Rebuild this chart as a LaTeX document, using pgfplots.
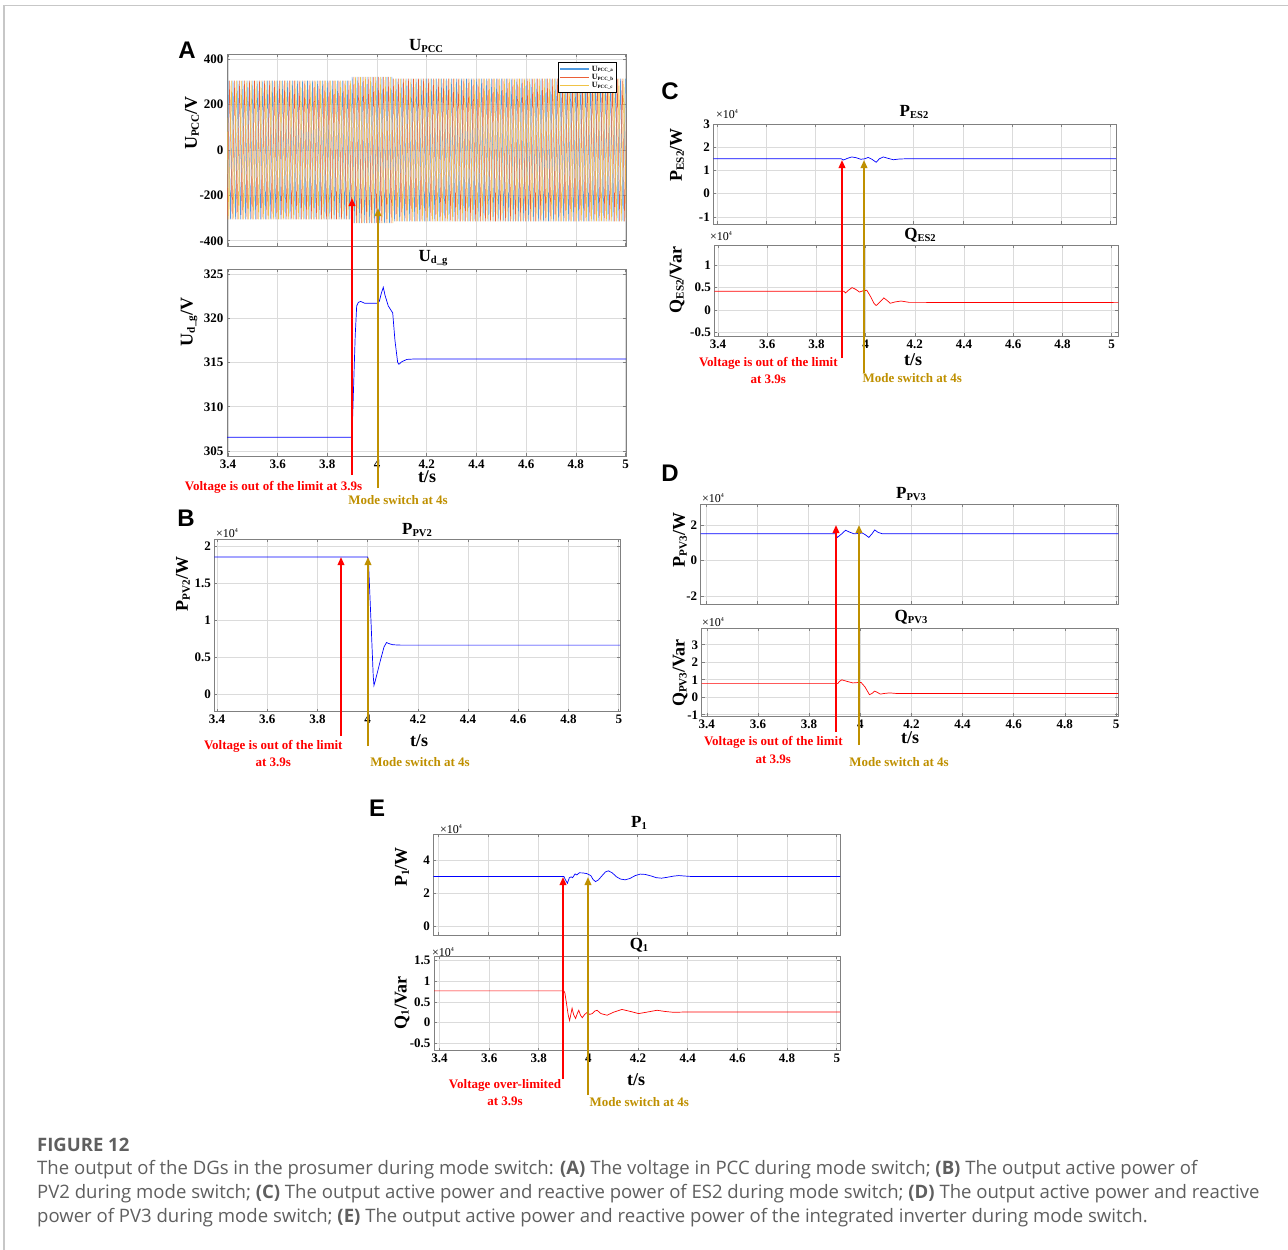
\documentclass[border=0pt]{standalone}
\usepackage{fontspec}
\setmainfont{Liberation Serif}
\newfontfamily\capfont{Open Sans}
\newfontfamily\letfont{Liberation Sans}
\usepackage{graphicx}
\usepackage{xcolor}
\usepackage{pgfplots}
\pgfplotsset{compat=1.18}
\usetikzlibrary{arrows.meta}

\definecolor{phA}{RGB}{80,155,225}
\definecolor{phB}{RGB}{235,95,55}
\definecolor{phC}{RGB}{240,195,70}
\definecolor{gold}{RGB}{191,144,0}
\definecolor{capgray}{RGB}{95,95,95}

\newcommand\sbx[1]{\raisebox{-0.12em}{\scalebox{0.62}{#1}}}
\newcommand\fs[1]{\fontsize{#1}{#1}\selectfont}

\pgfplotsset{
  mat/.style={
    scale only axis, anchor=north west,
    xmajorgrids, ymajorgrids,
    grid style={line width=0.6pt, black!14},
    axis line style={line width=0.7pt, black!50},
    every tick/.style={black!50, line width=0.6pt},
    tick align=inside, major tick length=3pt,
    ticklabel style={font=\fs{13}\bfseries, text=black},
    /pgf/number format/assume math mode=true,
    xtick={3.4,3.6,3.8,4,4.2,4.4,4.6,4.8,5},
    scaled ticks=false,
  },
  notx/.style={xticklabels={}},
  sig/.style={line width=0.7pt},
}

\begin{document}
\begin{tikzpicture}
\useasboundingbox (0,0) rectangle (1288pt,-1250pt);
\fill[white] (0,0) rectangle (1288pt,-1250pt);
\draw[black!22, line width=1.2pt] (4pt,-1260pt) -- (4pt,-5.5pt) -- (1300pt,-5.5pt);

% ---------------- A: U_PCC
\begin{axis}[mat, notx, at={(227pt,-54pt)}, width=399pt, height=192pt,
  xmin=3.396, xmax=5.002, ymin=-423, ymax=423, ytick={-400,-200,0,200,400},
  legend style={at={(0.977,0.958)}, anchor=north east, font=\fs{8}\bfseries,
    draw=black, fill=white, inner sep=1.5pt, row sep=-2.5pt,
    cells={anchor=west}},
  legend image code/.code={\draw[#1, line width=1.4pt] (0pt,0pt) -- (29pt,0pt);}]
\addplot[phA, line width=0.5pt] coordinates {
(3.40,306)(3.41,-306)(3.42,306)(3.43,-306)(3.44,306)(3.45,-306)(3.46,306)(3.47,-306)(3.48,306)(3.49,-306)
(3.50,306)(3.51,-306)(3.52,306)(3.53,-306)(3.54,306)(3.55,-306)(3.56,306)(3.57,-306)(3.58,306)(3.59,-306)
(3.60,306)(3.61,-306)(3.62,306)(3.63,-306)(3.64,306)(3.65,-306)(3.66,306)(3.67,-306)(3.68,306)(3.69,-306)
(3.70,306)(3.71,-306)(3.72,306)(3.73,-306)(3.74,306)(3.75,-306)(3.76,306)(3.77,-306)(3.78,306)(3.79,-306)
(3.80,306)(3.81,-306)(3.82,306)(3.83,-306)(3.84,306)(3.85,-306)(3.86,306)(3.87,-306)(3.88,306)(3.89,-306)
(3.90,322)(3.91,-322)(3.92,322)(3.93,-322)(3.94,322)(3.95,-322)(3.96,322)(3.97,-322)(3.98,322)(3.99,-322)
(4.00,322)(4.01,-322)(4.02,322)(4.03,-322)(4.04,322)(4.05,-322)(4.06,322)(4.07,-315)(4.08,315)(4.09,-315)
(4.10,315)(4.11,-315)(4.12,315)(4.13,-315)(4.14,315)(4.15,-315)(4.16,315)(4.17,-315)(4.18,315)(4.19,-315)
(4.20,315)(4.21,-315)(4.22,315)(4.23,-315)(4.24,315)(4.25,-315)(4.26,315)(4.27,-315)(4.28,315)(4.29,-315)
(4.30,315)(4.31,-315)(4.32,315)(4.33,-315)(4.34,315)(4.35,-315)(4.36,315)(4.37,-315)(4.38,315)(4.39,-315)
(4.40,315)(4.41,-315)(4.42,315)(4.43,-315)(4.44,315)(4.45,-315)(4.46,315)(4.47,-315)(4.48,315)(4.49,-315)
(4.50,315)(4.51,-315)(4.52,315)(4.53,-315)(4.54,315)(4.55,-315)(4.56,315)(4.57,-315)(4.58,315)(4.59,-315)
(4.60,315)(4.61,-315)(4.62,315)(4.63,-315)(4.64,315)(4.65,-315)(4.66,315)(4.67,-315)(4.68,315)(4.69,-315)
(4.70,315)(4.71,-315)(4.72,315)(4.73,-315)(4.74,315)(4.75,-315)(4.76,315)(4.77,-315)(4.78,315)(4.79,-315)
(4.80,315)(4.81,-315)(4.82,315)(4.83,-315)(4.84,315)(4.85,-315)(4.86,315)(4.87,-315)(4.88,315)(4.89,-315)
(4.90,315)(4.91,-315)(4.92,315)(4.93,-315)(4.94,315)(4.95,-315)(4.96,315)(4.97,-315)(4.98,315)(4.99,-315)
(5.00,315)};
\addlegendentry{U\sbx{PCC\_a}}
\addplot[phB, line width=0.5pt] coordinates {
(3.3967,-306)
(3.4067,306)(3.4167,-306)(3.4267,306)(3.4367,-306)(3.4467,306)(3.4567,-306)(3.4667,306)(3.4767,-306)(3.4867,306)(3.4967,-306)
(3.5067,306)(3.5167,-306)(3.5267,306)(3.5367,-306)(3.5467,306)(3.5567,-306)(3.5667,306)(3.5767,-306)(3.5867,306)(3.5967,-306)
(3.6067,306)(3.6167,-306)(3.6267,306)(3.6367,-306)(3.6467,306)(3.6567,-306)(3.6667,306)(3.6767,-306)(3.6867,306)(3.6967,-306)
(3.7067,306)(3.7167,-306)(3.7267,306)(3.7367,-306)(3.7467,306)(3.7567,-306)(3.7667,306)(3.7767,-306)(3.7867,306)(3.7967,-306)
(3.8067,306)(3.8167,-306)(3.8267,306)(3.8367,-306)(3.8467,306)(3.8567,-306)(3.8667,306)(3.8767,-306)(3.8867,306)(3.8967,-306)
(3.9067,322)(3.9167,-322)(3.9267,322)(3.9367,-322)(3.9467,322)(3.9567,-322)(3.9667,322)(3.9767,-322)(3.9867,322)(3.9967,-322)
(4.0067,322)(4.0167,-322)(4.0267,322)(4.0367,-322)(4.0467,322)(4.0567,-322)(4.0667,315)(4.0767,-315)(4.0867,315)(4.0967,-315)
(4.1067,315)(4.1167,-315)(4.1267,315)(4.1367,-315)(4.1467,315)(4.1567,-315)(4.1667,315)(4.1767,-315)(4.1867,315)(4.1967,-315)
(4.2067,315)(4.2167,-315)(4.2267,315)(4.2367,-315)(4.2467,315)(4.2567,-315)(4.2667,315)(4.2767,-315)(4.2867,315)(4.2967,-315)
(4.3067,315)(4.3167,-315)(4.3267,315)(4.3367,-315)(4.3467,315)(4.3567,-315)(4.3667,315)(4.3767,-315)(4.3867,315)(4.3967,-315)
(4.4067,315)(4.4167,-315)(4.4267,315)(4.4367,-315)(4.4467,315)(4.4567,-315)(4.4667,315)(4.4767,-315)(4.4867,315)(4.4967,-315)
(4.5067,315)(4.5167,-315)(4.5267,315)(4.5367,-315)(4.5467,315)(4.5567,-315)(4.5667,315)(4.5767,-315)(4.5867,315)(4.5967,-315)
(4.6067,315)(4.6167,-315)(4.6267,315)(4.6367,-315)(4.6467,315)(4.6567,-315)(4.6667,315)(4.6767,-315)(4.6867,315)(4.6967,-315)
(4.7067,315)(4.7167,-315)(4.7267,315)(4.7367,-315)(4.7467,315)(4.7567,-315)(4.7667,315)(4.7767,-315)(4.7867,315)(4.7967,-315)
(4.8067,315)(4.8167,-315)(4.8267,315)(4.8367,-315)(4.8467,315)(4.8567,-315)(4.8667,315)(4.8767,-315)(4.8867,315)(4.8967,-315)
(4.9067,315)(4.9167,-315)(4.9267,315)(4.9367,-315)(4.9467,315)(4.9567,-315)(4.9667,315)(4.9767,-315)(4.9867,315)(4.9967,-315)
(5.0067,315)};
\addlegendentry{U\sbx{PCC\_b}}
\addplot[phC, line width=0.5pt] coordinates {
(3.3933,306)
(3.4033,-306)(3.4133,306)(3.4233,-306)(3.4333,306)(3.4433,-306)(3.4533,306)(3.4633,-306)(3.4733,306)(3.4833,-306)(3.4933,306)
(3.5033,-306)(3.5133,306)(3.5233,-306)(3.5333,306)(3.5433,-306)(3.5533,306)(3.5633,-306)(3.5733,306)(3.5833,-306)(3.5933,306)
(3.6033,-306)(3.6133,306)(3.6233,-306)(3.6333,306)(3.6433,-306)(3.6533,306)(3.6633,-306)(3.6733,306)(3.6833,-306)(3.6933,306)
(3.7033,-306)(3.7133,306)(3.7233,-306)(3.7333,306)(3.7433,-306)(3.7533,306)(3.7633,-306)(3.7733,306)(3.7833,-306)(3.7933,306)
(3.8033,-306)(3.8133,306)(3.8233,-306)(3.8333,306)(3.8433,-306)(3.8533,306)(3.8633,-306)(3.8733,306)(3.8833,-306)(3.8933,306)
(3.9033,-322)(3.9133,322)(3.9233,-322)(3.9333,322)(3.9433,-322)(3.9533,322)(3.9633,-322)(3.9733,322)(3.9833,-322)(3.9933,322)
(4.0033,-322)(4.0133,322)(4.0233,-322)(4.0333,322)(4.0433,-322)(4.0533,322)(4.0633,-322)(4.0733,315)(4.0833,-315)(4.0933,315)
(4.1033,-315)(4.1133,315)(4.1233,-315)(4.1333,315)(4.1433,-315)(4.1533,315)(4.1633,-315)(4.1733,315)(4.1833,-315)(4.1933,315)
(4.2033,-315)(4.2133,315)(4.2233,-315)(4.2333,315)(4.2433,-315)(4.2533,315)(4.2633,-315)(4.2733,315)(4.2833,-315)(4.2933,315)
(4.3033,-315)(4.3133,315)(4.3233,-315)(4.3333,315)(4.3433,-315)(4.3533,315)(4.3633,-315)(4.3733,315)(4.3833,-315)(4.3933,315)
(4.4033,-315)(4.4133,315)(4.4233,-315)(4.4333,315)(4.4433,-315)(4.4533,315)(4.4633,-315)(4.4733,315)(4.4833,-315)(4.4933,315)
(4.5033,-315)(4.5133,315)(4.5233,-315)(4.5333,315)(4.5433,-315)(4.5533,315)(4.5633,-315)(4.5733,315)(4.5833,-315)(4.5933,315)
(4.6033,-315)(4.6133,315)(4.6233,-315)(4.6333,315)(4.6433,-315)(4.6533,315)(4.6633,-315)(4.6733,315)(4.6833,-315)(4.6933,315)
(4.7033,-315)(4.7133,315)(4.7233,-315)(4.7333,315)(4.7433,-315)(4.7533,315)(4.7633,-315)(4.7733,315)(4.7833,-315)(4.7933,315)
(4.8033,-315)(4.8133,315)(4.8233,-315)(4.8333,315)(4.8433,-315)(4.8533,315)(4.8633,-315)(4.8733,315)(4.8833,-315)(4.8933,315)
(4.9033,-315)(4.9133,315)(4.9233,-315)(4.9333,315)(4.9433,-315)(4.9533,315)(4.9633,-315)(4.9733,315)(4.9833,-315)(4.9933,315)
(5.0033,-315)};
\addlegendentry{U\sbx{PCC\_c}}
\end{axis}

% ---------------- A: U_d_g
\begin{axis}[mat, at={(227pt,-269.3pt)}, width=399pt, height=186.7pt,
  xmin=3.396, xmax=5.002, ymin=304.44, ymax=325.53, ytick={305,310,315,320,325}]
\addplot[blue, sig] coordinates {(3.396,306.55)(3.899,306.55)(3.903,310)(3.912,318)(3.918,321.4)(3.925,321.8)(3.934,321.9)(3.95,321.7)(4.0,321.7)(4.009,321.9)(4.017,322.8)(4.025,323.5)(4.032,322.6)(4.045,321.4)(4.063,320.6)(4.072,317.5)(4.083,315)(4.088,314.8)(4.10,315.1)(4.12,315.35)(4.15,315.4)(5.002,315.4)};
\end{axis}

% ---------------- B: P_PV2
\begin{axis}[mat, at={(214.3pt,-539.3pt)}, width=405.7pt, height=172.4pt,
  xmin=3.389, xmax=5.005, ymin=-0.235, ymax=2.095, ytick={0,0.5,1,1.5,2}]
\addplot[blue, sig] coordinates {(3.389,1.855)(4.0,1.855)(4.003,1.80)(4.013,1.0)(4.022,0.25)(4.025,0.12)(4.03,0.18)(4.05,0.45)(4.065,0.64)(4.075,0.70)(4.085,0.685)(4.10,0.67)(4.13,0.665)(5.005,0.665)};
\end{axis}

% ---------------- C: P_ES2, Q_ES2
\begin{axis}[mat, notx, at={(713.3pt,-124pt)}, width=402.7pt, height=100pt,
  xmin=3.385, xmax=5.022, ymin=-1.31, ymax=3, ytick={-1,0,1,2,3}]
\addplot[blue, sig] coordinates {(3.385,1.5)(3.905,1.5)(3.915,1.45)(3.93,1.52)(3.948,1.58)(3.965,1.55)(3.985,1.48)(4.0,1.5)(4.015,1.56)(4.03,1.48)(4.047,1.35)(4.06,1.5)(4.076,1.58)(4.095,1.52)(4.117,1.46)(4.14,1.49)(4.165,1.5)(5.03,1.5)};
\end{axis}
\begin{axis}[mat, at={(714.3pt,-245pt)}, width=404pt, height=91pt,
  xmin=3.385, xmax=5.027, ymin=-0.58, ymax=1.45, ytick={-0.5,0,0.5,1}]
\addplot[red, sig] coordinates {(3.385,0.42)(3.912,0.42)(3.918,0.38)(3.93,0.44)(3.945,0.50)(3.96,0.46)(3.975,0.40)(3.99,0.43)(4.005,0.44)(4.02,0.30)(4.035,0.14)(4.043,0.10)(4.055,0.16)(4.074,0.27)(4.088,0.21)(4.1,0.15)(4.12,0.18)(4.144,0.2)(4.178,0.17)(5.03,0.165)};
\end{axis}

% ---------------- D: P_PV3, Q_PV3
\begin{axis}[mat, notx, at={(700.7pt,-504.3pt)}, width=417.6pt, height=99.7pt,
  xmin=3.38, xmax=5.009, ymin=-2.42, ymax=3.15, ytick={-2,0,2}]
\addplot[blue, sig] coordinates {(3.38,1.5)(3.905,1.5)(3.913,1.3)(3.93,1.5)(3.945,1.7)(3.96,1.6)(3.978,1.5)(3.995,1.52)(4.01,1.55)(4.022,1.45)(4.036,1.3)(4.048,1.5)(4.059,1.72)(4.072,1.58)(4.089,1.5)(5.01,1.5)};
\end{axis}
\begin{axis}[mat, at={(701.7pt,-628.3pt)}, width=416.6pt, height=87.7pt,
  xmin=3.38, xmax=5.009, ymin=-1.07, ymax=3.94, ytick={-1,0,1,2,3}]
\addplot[red, sig] coordinates {(3.38,0.78)(3.912,0.78)(3.918,0.9)(3.928,1.0)(3.945,0.92)(3.971,0.82)(3.99,0.84)(4.003,0.85)(4.018,0.6)(4.036,0.15)(4.046,0.22)(4.056,0.35)(4.067,0.28)(4.078,0.18)(4.095,0.22)(4.115,0.25)(4.14,0.22)(5.01,0.22)};
\end{axis}

% ---------------- E: P_1, Q_1
\begin{axis}[mat, notx, at={(433.3pt,-834.3pt)}, width=406.7pt, height=100.7pt,
  xmin=3.378, xmax=5.013, ymin=-0.55, ymax=5.6, ytick={0,2,4}]
\addplot[blue, sig] coordinates {(3.378,3.02)(3.903,3.02)(3.91,2.8)(3.917,2.61)(3.925,2.95)(3.932,3.0)(3.938,2.95)(3.948,3.18)(3.955,3.12)(3.965,3.25)(3.98,3.24)(3.995,3.2)(4.011,3.08)(4.02,2.85)(4.03,2.71)(4.042,2.82)(4.058,3.1)(4.07,3.3)(4.082,3.37)(4.097,3.25)(4.115,3.0)(4.13,2.87)(4.149,2.82)(4.168,2.9)(4.19,3.08)(4.21,3.17)(4.23,3.15)(4.255,3.05)(4.275,2.95)(4.296,2.92)(4.32,2.98)(4.345,3.05)(4.365,3.08)(4.39,3.05)(4.42,3.02)(5.013,3.02)};
\end{axis}
\begin{axis}[mat, at={(434pt,-956pt)}, width=406pt, height=94.7pt,
  xmin=3.378, xmax=5.013, ymin=-0.68, ymax=1.615, ytick={-0.5,0,0.5,1,1.5}]
\addplot[red, sig] coordinates {(3.378,0.77)(3.901,0.77)(3.905,0.72)(3.912,0.45)(3.918,0.2)(3.924,0.05)(3.929,0.2)(3.934,0.35)(3.94,0.2)(3.948,0.1)(3.955,0.22)(3.961,0.3)(3.968,0.18)(3.975,0.12)(3.985,0.2)(3.995,0.25)(4.005,0.2)(4.015,0.22)(4.025,0.28)(4.035,0.3)(4.05,0.22)(4.075,0.18)(4.1,0.25)(4.135,0.32)(4.17,0.27)(4.202,0.22)(4.24,0.26)(4.276,0.3)(4.31,0.27)(4.343,0.25)(4.4,0.26)(5.013,0.26)};
\end{axis}

% ---------------- annotations (pixel coordinates, y downwards)
\begin{scope}[x=1pt, y=-1pt]
\tikzset{arr/.style={line width=1.8pt, -{Triangle[length=8pt,width=6.5pt]}},
  ann/.style={font=\fs{13}\bfseries, inner sep=0pt},
  ttl/.style={font=\fs{17}\bfseries, inner sep=0pt},
  ylab/.style={font=\fs{18}\bfseries, rotate=90, inner sep=0pt},
  xlab/.style={font=\fs{18}\bfseries, inner sep=0pt},
  ten/.style={font=\fs{12}, anchor=west, inner sep=0pt},
  let/.style={font=\letfont\bfseries\fs{24}, inner sep=0pt}}
% letters
\node[let] at (187,50) {A};
\node[let] at (186,518) {B};
\node[let] at (670,91) {C};
\node[let] at (670,473) {D};
\node[let] at (377,808) {E};
% titles
\node[ttl] at (426,46) {U\sbx{PCC}};
\node[ttl] at (433,258) {U\sbx{d\_g}};
\node[ttl] at (417,530) {P\sbx{PV2}};
\node[ttl] at (914,112) {P\sbx{ES2}};
\node[ttl] at (920,235) {Q\sbx{ES2}};
\node[ttl] at (911,494) {P\sbx{PV3}};
\node[ttl] at (911,617) {Q\sbx{PV3}};
\node[ttl] at (639,823) {P\sbx{1}};
\node[ttl] at (639,945) {Q\sbx{1}};
% y labels
\node[ylab] at (192,123) {U\sbx{PCC}/V};
\node[ylab] at (189,322) {U\sbx{d\_g}/V};
\node[ylab] at (183,584) {P\sbx{PV2}/W};
\node[ylab] at (677,155) {P\sbx{ES2}/W};
\node[ylab] at (677,280) {Q\sbx{ES2}/Var};
\node[ylab] at (680,540) {P\sbx{PV3}/W};
\node[ylab] at (680,673) {Q\sbx{PV3}/Var};
\node[ylab] at (402,867) {P\sbx{1}/W};
\node[ylab] at (402,1003) {Q\sbx{1}/Var};
% x labels
\node[xlab] at (427,477) {t/s};
\node[xlab] at (419,741) {t/s};
\node[xlab] at (913,360) {t/s};
\node[xlab] at (910,738) {t/s};
\node[xlab] at (636,1080) {t/s};
% x10^4
\foreach \p in {(216,533),(716,114),(710,236),(702,498),(702,622),(440,829),(432,952)}
  \node[ten] at \p {×10\raisebox{0.45em}{\fs{6}4}};
% arrows
\draw[arr, red] (352,475) -- (352,198);
\draw[arr, gold] (378,488) -- (378,208);
\draw[arr, red] (341,736) -- (341,557);
\draw[arr, gold] (368,746) -- (368,557);
\draw[arr, red] (842,358) -- (842,160);
\draw[arr, gold] (864,373) -- (864,160);
\draw[arr, red] (836,732) -- (836,525);
\draw[arr, gold] (859,745) -- (859,525);
\draw[arr, red] (563,1079) -- (563,877);
\draw[arr, gold] (588,1095) -- (588,877);
% annotation text
\node[ann, red] at (273.5,487) {Voltage is out of the limit at 3.9s};
\node[ann, gold] at (398,500) {Mode switch at 4s};
\node[ann, red] at (273.3,746) {Voltage is out of the limit};
\node[ann, red] at (273.3,762.7) {at 3.9s};
\node[ann, gold] at (420,762) {Mode switch at 4s};
\node[ann, red] at (768.3,363.3) {Voltage is out of the limit};
\node[ann, red] at (768.3,379) {at 3.9s};
\node[ann, gold] at (912.3,378.3) {Mode switch at 4s};
\node[ann, red] at (773.3,742.7) {Voltage is out of the limit};
\node[ann, red] at (773.3,759.3) {at 3.9s};
\node[ann, gold] at (899,761.7) {Mode switch at 4s};
\node[ann, red] at (505,1085) {Voltage over-limited};
\node[ann, red] at (505,1101.7) {at 3.9s};
\node[ann, gold] at (639.3,1101.7) {Mode switch at 4s};
% caption
\node[anchor=base west, inner sep=0pt, font=\capfont\bfseries\fs{18.5}, text=capgray] at (37,1151) {FIGURE 12};
\node[anchor=base west, inner sep=0pt, font=\capfont\fs{18.55}, text=capgray] at (37,1174) {The output of the DGs in the prosumer during mode switch: \textbf{(A)} The voltage in PCC during mode switch; \textbf{(B)} The output active power of};
\node[anchor=base west, inner sep=0pt, font=\capfont\fs{18.55}, text=capgray] at (37,1198) {PV2 during mode switch; \textbf{(C)} The output active power and reactive power of ES2 during mode switch; \textbf{(D)} The output active power and reactive};
\node[anchor=base west, inner sep=0pt, font=\capfont\fs{18.55}, text=capgray] at (37,1222) {power of PV3 during mode switch; \textbf{(E)} The output active power and reactive power of the integrated inverter during mode switch.};
\end{scope}
\end{tikzpicture}
\end{document}
